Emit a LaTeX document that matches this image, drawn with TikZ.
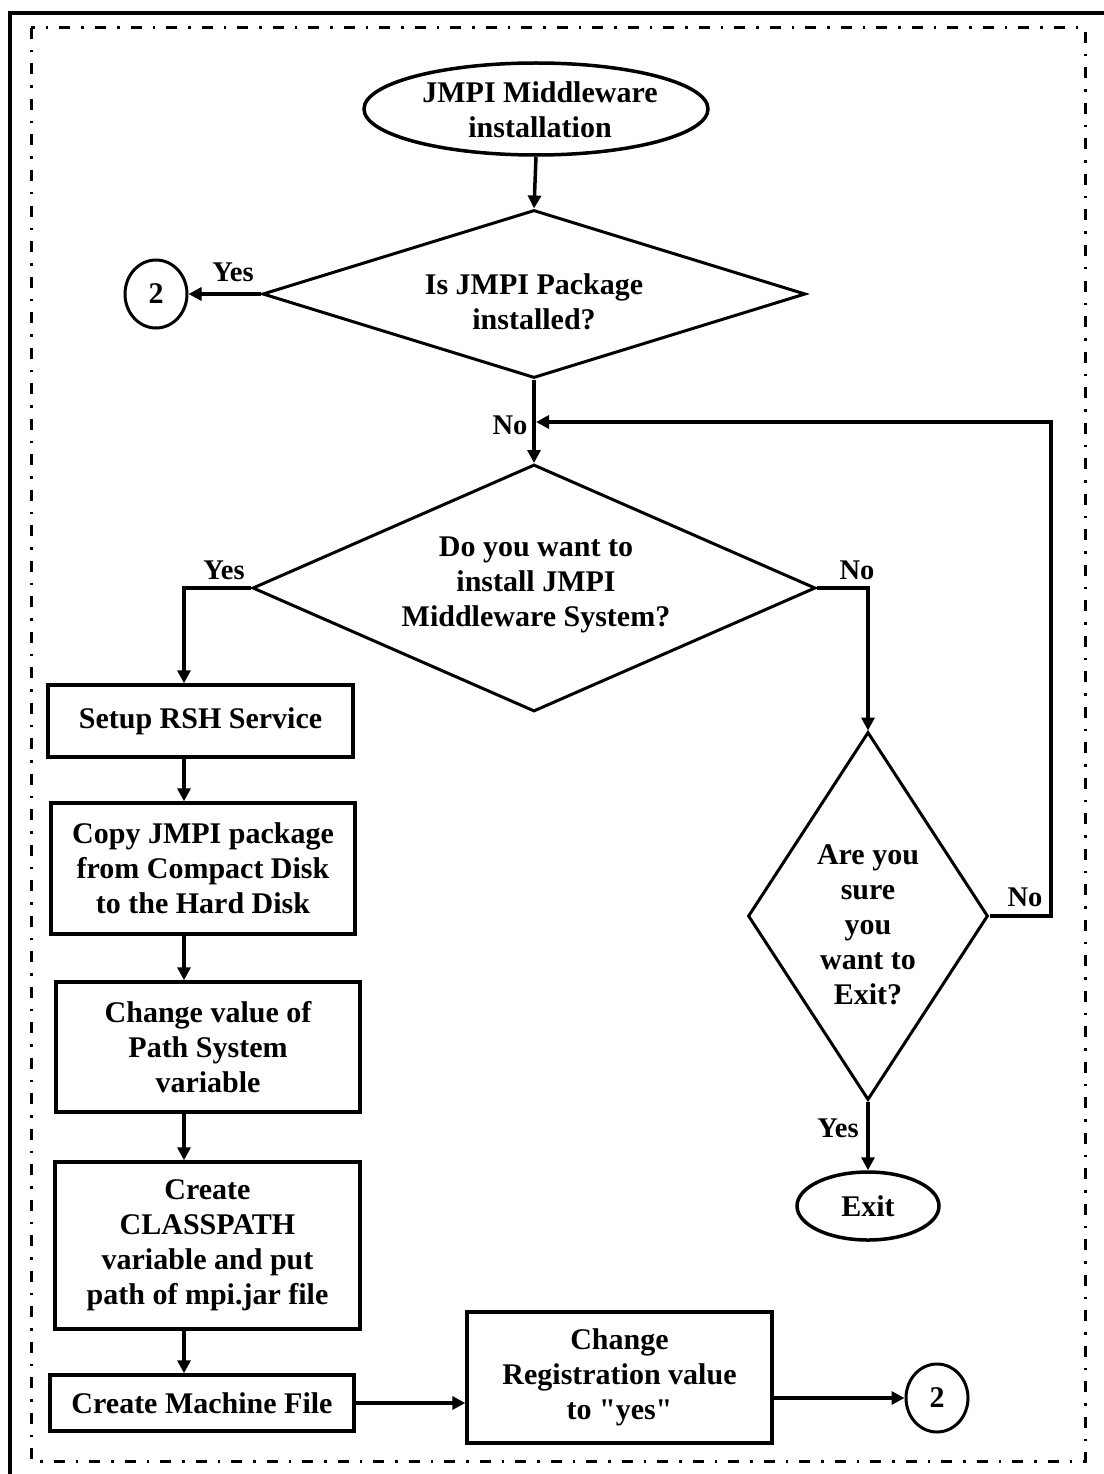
\documentclass[tikz,border=0pt]{standalone}
\usepackage{fontspec}
\newfontfamily\flowfont{Liberation Serif}
\usetikzlibrary{shapes.geometric,arrows.meta}
\begin{document}
\begin{tikzpicture}[x=1pt,y=-1pt,
  every node/.style={font=\flowfont\fontsize{30}{35}\selectfont\bfseries},
  box/.style={draw, line width=3.5pt, rectangle, inner sep=0, align=center},
  dia/.style={draw, diamond, line width=3pt, inner sep=0},
  ell/.style={draw, ellipse, line width=3.5pt, inner sep=0},
  con/.style={draw, ellipse, line width=3pt, inner sep=0, minimum width=62pt, minimum height=68pt},
  txt/.style={align=center, inner sep=0},
  lab/.style={inner sep=0, font=\flowfont\fontsize{28.5}{34}\selectfont\bfseries},
  flow/.style={line width=3.5pt, -{Triangle[length=13pt,width=13pt]}},
]
\useasboundingbox (0,0) rectangle (1103,1474);
% borders
\draw[line width=4pt] (10,1490) -- (10,13) -- (1120,13);
\draw[line width=3pt, dash pattern=on 11pt off 11pt on 2.5pt off 11pt] (31,28) rectangle (1085,1461);

\coordinate (ax) at (184,0);

% nodes
\node[ell, minimum width=344pt, minimum height=92pt] (start) at (536,109) {};
\node[txt] (startt) at (540,110) {JMPI Middleware\\installation};

\node[dia, minimum width=543pt, minimum height=168pt] (d1) at (534,294) {};
\node[txt] (d1t) at (534,302) {Is JMPI Package\\installed?};
\node[con] (c1) at (156,294) {2};

\node[dia, minimum width=563pt, minimum height=247pt] (d2) at (534,588) {};
\node[txt] (d2t) at (536,585) {Do you want to\\install JMPI\\Middleware System?};

\node[dia, minimum width=240pt, minimum height=368pt] (d3) at (868,916) {};
\node[txt] (d3t) at (868,925) {Are you\\sure\\you\\want to\\Exit?};

\node[ell, minimum width=142pt, minimum height=68pt] (exit) at (868,1206) {Exit};

\node[box, minimum width=305pt, minimum height=72pt] (rsh) at (200.5,721) {Setup RSH Service};
\node[box, minimum width=304pt, minimum height=131pt] (copy) at (203,868.5) {Copy JMPI package\\from Compact Disk\\to the Hard Disk};
\node[box, minimum width=304pt, minimum height=130pt] (chg) at (208,1047) {Change value of\\Path System\\variable};
\node[box, minimum width=305pt, minimum height=167pt] (cp) at (207.5,1245.5) {Create\\CLASSPATH\\variable and put\\path of mpi.jar file};
\node[box, minimum width=304pt, minimum height=56pt] (mach) at (202,1403) {Create Machine File};
\node[box, minimum width=305pt, minimum height=131pt] (reg) at (619.5,1377.5) {Change\\Registration value\\to "yes"};
\node[con] (c2) at (937,1398) {2};

% labels
\node[lab] (y1) at (233,272) {Yes};
\node[lab] (n1) at (510,425) {No};
\node[lab] (y2) at (224,570) {Yes};
\node[lab] (n2) at (857,570) {No};
\node[lab] (n3) at (1025,897) {No};
\node[lab] (y3) at (838,1128) {Yes};

\coordinate (loopr) at (1051,422);
\coordinate (join) at (536,422);

% connectors
\draw[flow] (start.south) -- (d1.north);
\draw[flow] (d1.west) -- (c1.east);
\draw[flow] (d1.south) -- (d2.north);
\draw[flow] (d2.west) -| (rsh.north -| ax);
\draw[flow] (d2.east) -| (d3.north);
\draw[flow] (d3.east) -| (loopr) -- (join);
\draw[flow] (d3.south) -- (exit.north);
\draw[flow] (rsh.south -| ax) -- (copy.north -| ax);
\draw[flow] (copy.south -| ax) -- (chg.north -| ax);
\draw[flow] (chg.south -| ax) -- (cp.north -| ax);
\draw[flow] (cp.south -| ax) -- (mach.north -| ax);
\draw[flow] (mach.east) -- (mach.east -| reg.west);
\draw[flow] (reg.east |- c2.west) -- (c2.west);
\end{tikzpicture}
\end{document}
